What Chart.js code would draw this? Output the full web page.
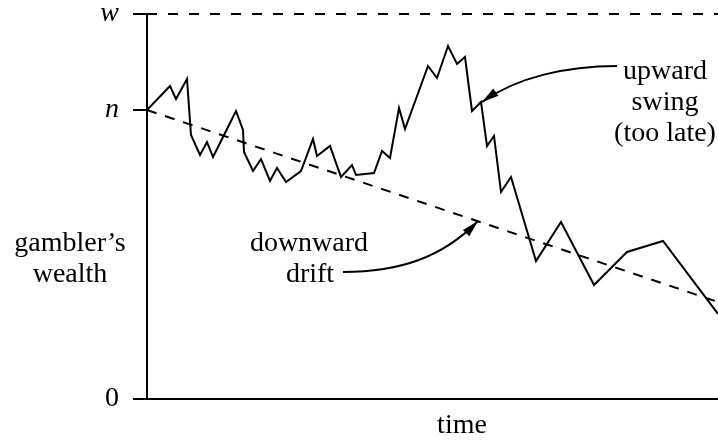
<!DOCTYPE html>
<html>
<head>
  <title>Gambler's ruin sketch</title>
  <script src="https://cdn.jsdelivr.net/npm/chart.js"></script>
  <style>
    html, body { margin: 0; padding: 0; background: #fff; }
    #wrap { width: 718px; height: 441px; position: relative; }
  </style>
</head>
<body>
  <div id="wrap">
    <canvas id="walkChart"></canvas>
  </div>

  <script>
    // wealth levels
    const W = 385;   // target wealth w
    const N = 289;   // starting wealth n
    const T_END = 571;

    // random walk of the gambler's wealth (time, wealth)
    const walkTimes = [0, 23, 29, 40, 44, 53, 60, 66, 89, 96, 97, 106, 114, 123, 130, 139, 154, 166, 170, 183,
      194, 205, 209, 227, 235, 243, 252, 258, 281, 290, 301, 310, 318, 325, 334, 340, 347, 354, 364,
      389, 414, 447, 480, 516, 571];
    const walkWealth = [289, 313, 300, 320, 264, 244, 257, 242, 288, 269, 247, 228, 240, 218, 231, 217, 228, 260, 243, 253,
      222, 234, 224, 226, 248, 241, 291, 270, 333, 321, 353, 335, 342, 288, 297, 253, 263, 207, 222,
      138, 177, 114, 147, 158, 85];

    // downward drift line
    const driftTimes = [0, 571];
    const driftWealth = [289, 97];

    // y tick values and labels
    const yTickValues = [0, N, W];
    const yTickLabels = ['0', 'n', 'w'];

    const FONT = '"Liberation Serif", "Times New Roman", serif';
    const SIZE = 28;

    function pts(xs, ys) {
      return xs.map((x, i) => ({ x: x, y: ys[i] }));
    }

    // curved arrows + free text, anchored in data units
    const notes = {
      id: 'notes',
      afterDatasetsDraw(chart) {
        const ctx = chart.ctx;
        const xs = chart.scales.x, ys = chart.scales.y;
        const P = (x, y) => [xs.getPixelForValue(x), ys.getPixelForValue(y)];

        function arrow(p0, c1, c2, p3) {
          const a = P(...p0), b = P(...c1), c = P(...c2), d = P(...p3);
          ctx.save();
          ctx.strokeStyle = '#000';
          ctx.fillStyle = '#000';
          ctx.lineWidth = 2;
          ctx.beginPath();
          ctx.moveTo(a[0], a[1]);
          ctx.bezierCurveTo(b[0], b[1], c[0], c[1], d[0], d[1]);
          ctx.stroke();
          const ang = Math.atan2(d[1] - c[1], d[0] - c[0]);
          const len = 17, half = 4.5;
          ctx.translate(d[0], d[1]);
          ctx.rotate(ang);
          ctx.beginPath();
          ctx.moveTo(0, 0);
          ctx.lineTo(-len, -half);
          ctx.lineTo(-len, half);
          ctx.closePath();
          ctx.fill();
          ctx.restore();
        }

        arrow([196, 127], [253, 127], [296, 142], [331, 178]);
        arrow([470, 333], [420, 333], [370, 322], [335, 297]);

        ctx.save();
        ctx.fillStyle = '#000';
        ctx.font = SIZE + 'px ' + FONT;
        ctx.textAlign = 'center';
        ctx.textBaseline = 'alphabetic';
        const text = (s, x, y) => { const p = P(x, y); ctx.fillText(s, p[0], p[1]); };
        text('downward', 162, 148);
        text('drift', 163, 117);
        text('upward', 518, 320);
        text('swing', 518, 289);
        text('(too late)', 518, 258);

        // axis titles
        const area = chart.chartArea;
        ctx.fillText('gambler\u2019s', 70, 251);
        ctx.fillText('wealth', 70, 282);
        ctx.fillText('time', area.left + 315, 433);
        ctx.restore();
      }
    };

    const ctx = document.getElementById('walkChart').getContext('2d');
    new Chart(ctx, {
      type: 'line',
      data: {
        datasets: [
          {
            data: pts(walkTimes, walkWealth),
            borderColor: '#000',
            borderWidth: 2,
            pointRadius: 0,
            tension: 0,
            borderJoinStyle: 'miter',
            clip: false,
          },
          {
            data: pts(driftTimes, driftWealth),
            borderColor: '#000',
            borderWidth: 2,
            borderDash: [10, 9],
            pointRadius: 0,
            clip: false,
          },
          {
            data: pts([0, T_END], [W, W]),
            borderColor: '#000',
            borderWidth: 2,
            borderDash: [10, 11],
            pointRadius: 0,
            clip: false,
          },
        ],
      },
      options: {
        responsive: true,
        maintainAspectRatio: false,
        animation: false,
        devicePixelRatio: 1,
        layout: { padding: 0 },
        plugins: { legend: { display: false }, tooltip: { enabled: false } },
        scales: {
          x: {
            type: 'linear',
            min: 0,
            max: T_END,
            ticks: { display: false },
            grid: { display: false },
            border: { display: true, color: '#000', width: 2 },
            afterFit: s => { s.height = 42; s.paddingLeft = 0; s.paddingRight = 0; },
          },
          y: {
            type: 'linear',
            min: 0,
            max: W,
            afterBuildTicks: s => { s.ticks = yTickValues.map(v => ({ value: v })); },
            ticks: {
              color: '#000',
              padding: 14,
              font: c => ({ family: FONT, size: SIZE, style: c.index === 0 ? 'normal' : 'italic' }),
              callback: (v, i) => yTickLabels[i],
            },
            grid: { drawOnChartArea: false, drawTicks: true, tickLength: 14, color: '#000', lineWidth: 2 },
            border: { display: true, color: '#000', width: 2 },
            afterFit: s => { s.width = 147; s.paddingTop = 14; s.paddingBottom = 0; },
          },
        },
      },
      plugins: [notes],
    });
  </script>
</body>
</html>
